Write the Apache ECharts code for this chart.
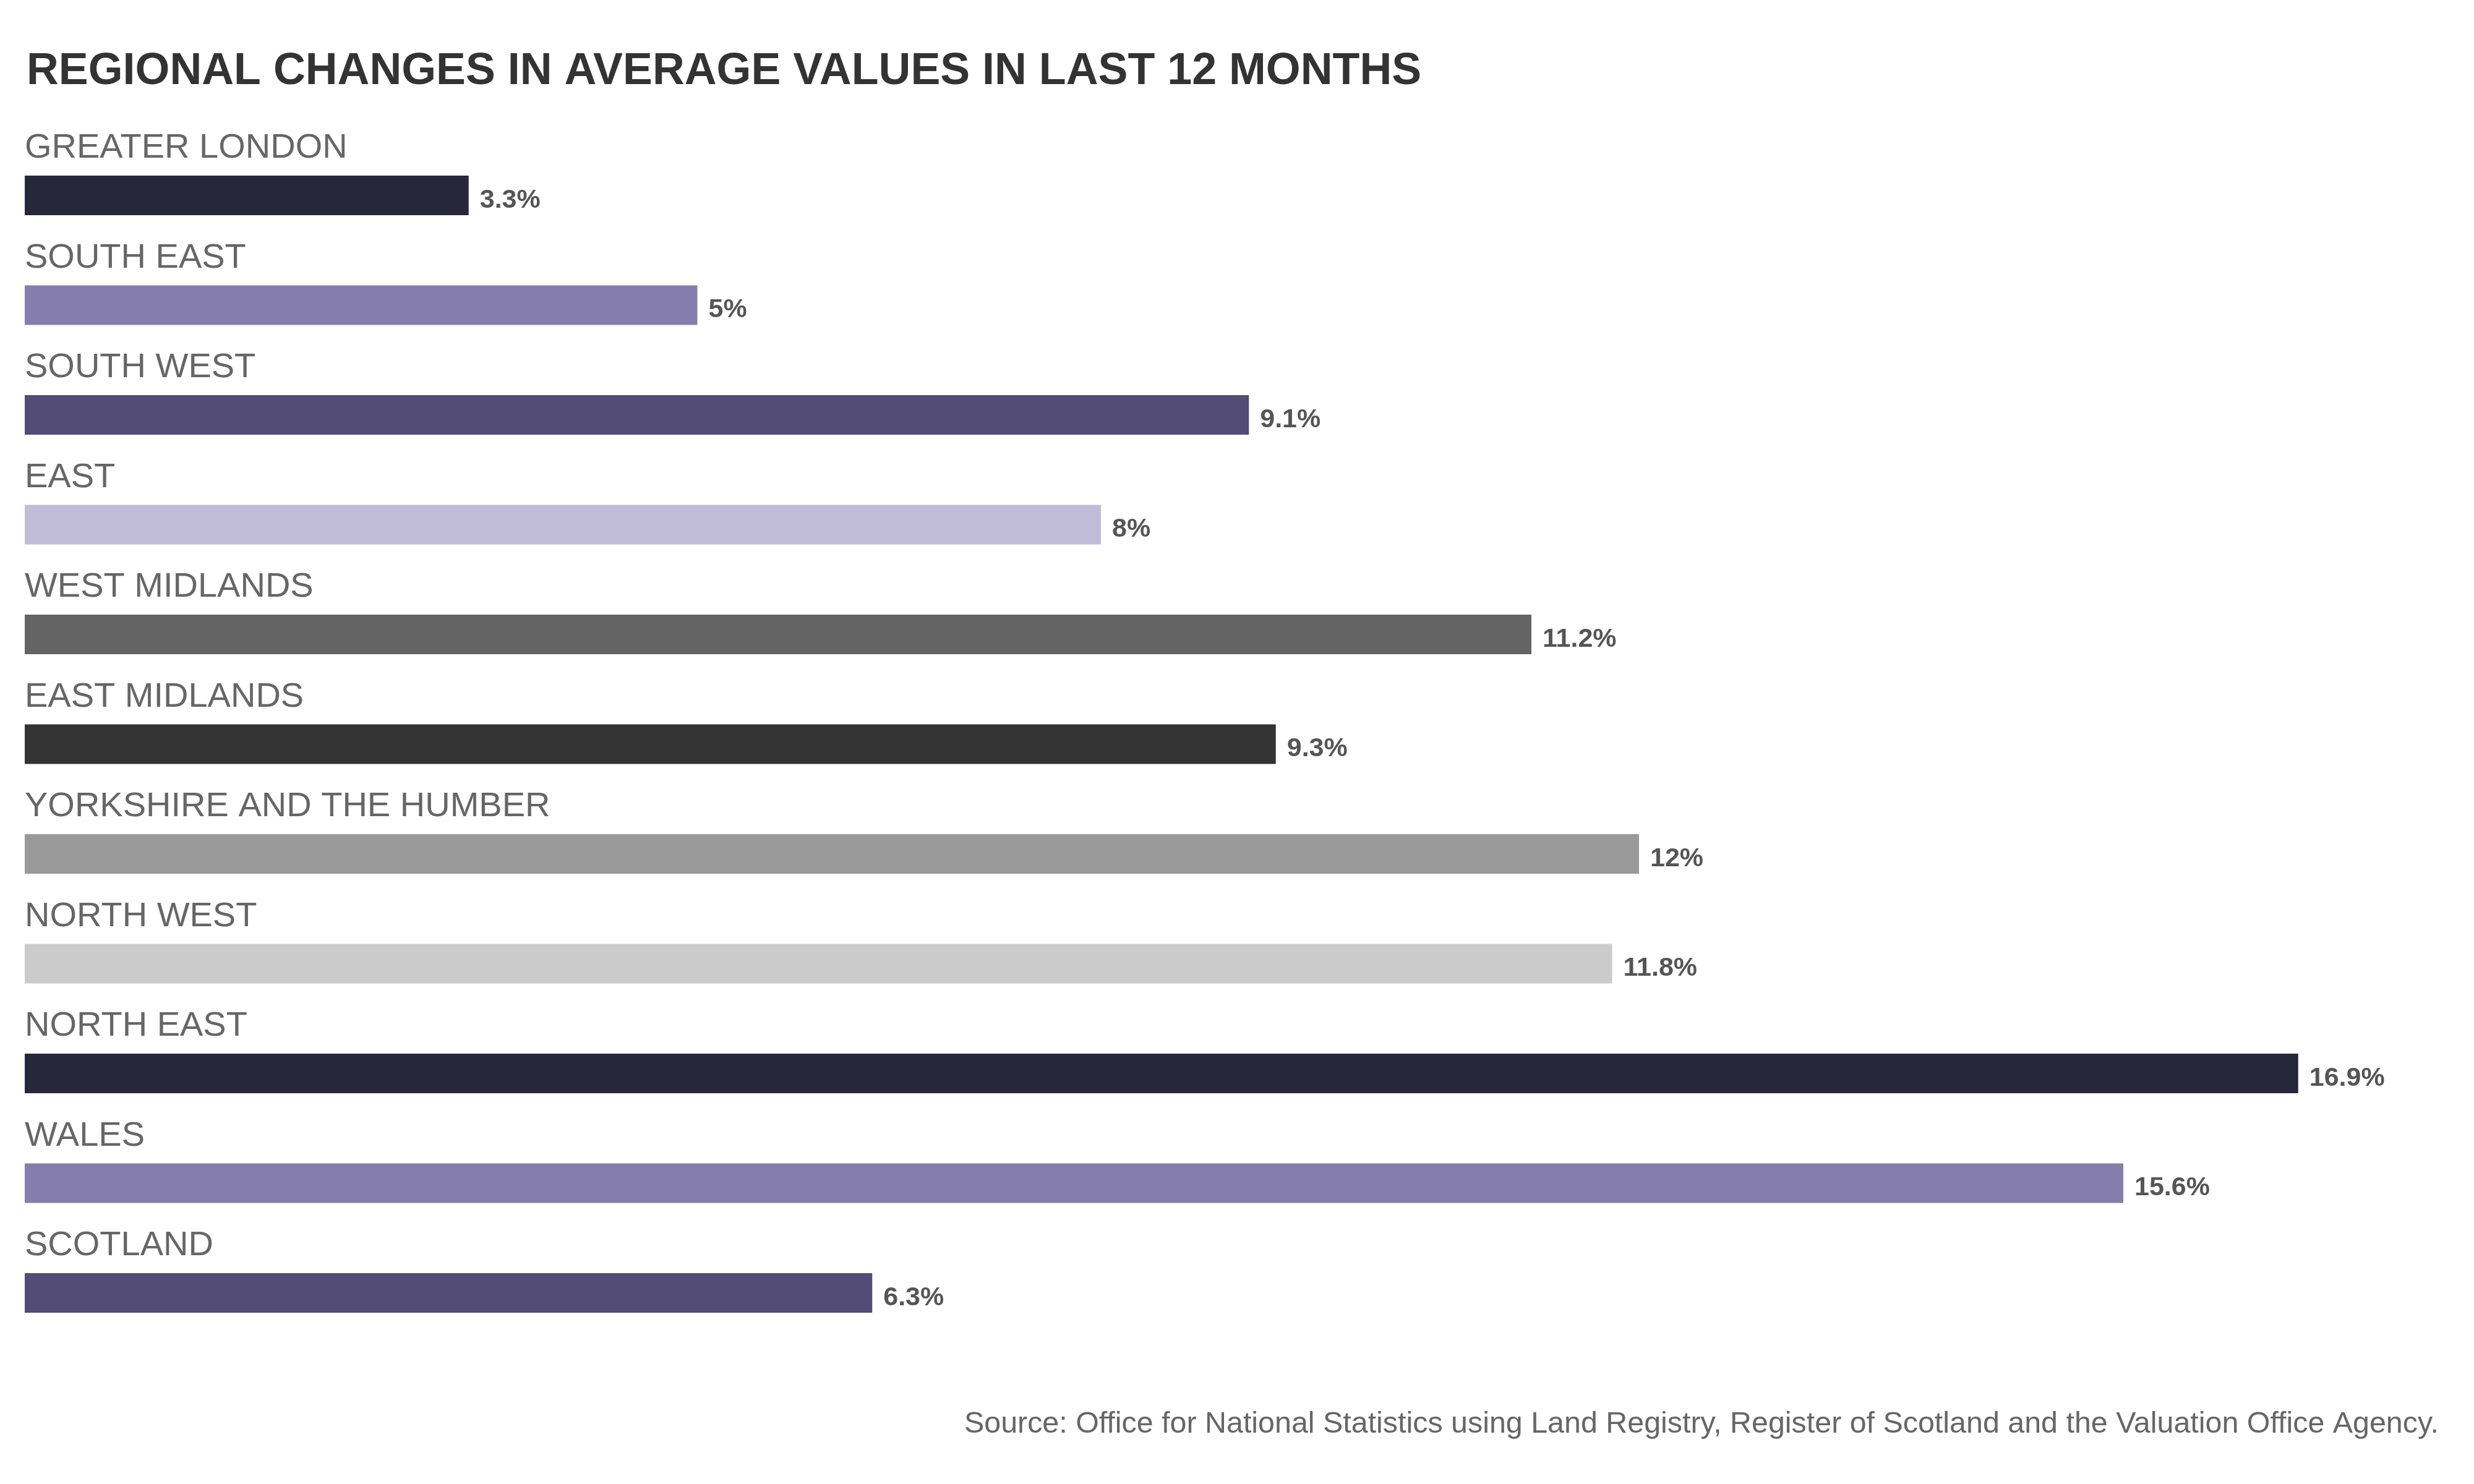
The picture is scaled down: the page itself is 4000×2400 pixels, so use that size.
<!DOCTYPE html>
<html>
<head>
<meta charset="utf-8">
<script src="https://cdn.jsdelivr.net/npm/echarts@6/dist/echarts.min.js"></script>
<style>html,body{margin:0;padding:0;background:#fff}#c{width:4000px;height:2400px}</style>
</head>
<body>
<div id="c"></div>
<script>
var regions = ['GREATER LONDON','SOUTH EAST','SOUTH WEST','EAST','WEST MIDLANDS','EAST MIDLANDS','YORKSHIRE AND THE HUMBER','NORTH WEST','NORTH EAST','WALES','SCOTLAND'];
var changes = [3.3, 5, 9.1, 8, 11.2, 9.3, 12, 11.8, 16.9, 15.6, 6.3];
var barColors = ['#282639','#857EAD','#524C77','#C0BCD7','#646464','#333333','#999999','#CBCBCB','#282639','#857EAD','#524C77'];
var titleText = 'REGIONAL CHANGES IN AVERAGE VALUES IN LAST 12 MONTHS';
var sourceText = 'Source: Office for National Statistics using Land Registry, Register of Scotland and the Valuation Office Agency.';

var chart = echarts.init(document.getElementById('c'), null, {renderer:'canvas'});
chart.setOption({
  animation: false,
  backgroundColor: '#ffffff',
  title: [{
    text: titleText, left: 38, top: 75,
    textStyle: {fontFamily: 'Liberation Sans', fontWeight: 'bold', fontSize: 71.8, color: '#333333'}
  },{
    text: sourceText, right: 52, top: 2275,
    textStyle: {fontFamily: 'Liberation Sans', fontWeight: 'normal', fontSize: 48.4, color: '#666666'}
  }],
  grid: {left: 40, top: 227.25, height: 1952.5, width: 3915, containLabel: false},
  xAxis: {type: 'value', min: 0, max: 18, show: false},
  yAxis: {
    type: 'category', data: regions, inverse: true,
    axisLine: {show: false}, axisTick: {show: false}, splitLine: {show: false},
    axisLabel: {show: false}
  },
  series: [{
    type: 'bar', barWidth: 64,
    data: changes.map(function(v, i){ return {value: v, itemStyle: {color: barColors[i]}}; }),
    label: {
      show: true, position: 'right', distance: 18, offset: [0, 8],
      formatter: function(p){ return p.value + '%'; },
      fontFamily: 'Liberation Sans', fontWeight: 'bold', fontSize: 43, color: '#555555'
    }
  },{
    type: 'bar', barWidth: 64, barGap: '-100%', silent: true,
    data: changes,
    itemStyle: {color: 'rgba(0,0,0,0)'},
    label: {
      show: true, position: [0, -44], align: 'left', verticalAlign: 'middle',
      formatter: '{b}',
      fontFamily: 'Liberation Sans', fontSize: 56, color: '#666666'
    }
  }]
});
</script>
</body>
</html>
